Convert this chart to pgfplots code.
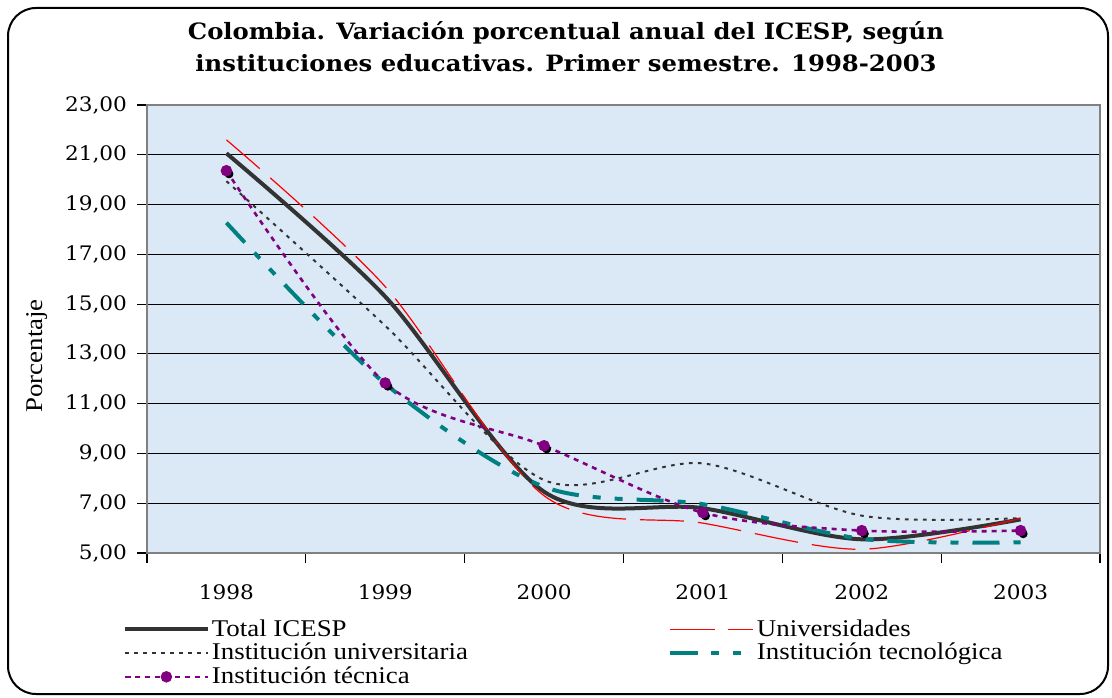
\documentclass[border=0pt]{standalone}
\usepackage{fontspec}
\setmainfont{Liberation Serif}[FakeStretch=1.12]
\newfontfamily\dvs{DejaVu Serif}[FakeStretch=1.08]
\usepackage{pgfplots}
\pgfplotsset{compat=1.18}
\definecolor{bgblue}{RGB}{219,233,246}
\definecolor{totgray}{RGB}{51,51,51}
\definecolor{tecteal}{RGB}{0,128,128}
\definecolor{tecpurple}{RGB}{128,0,128}
\begin{document}
\begin{tikzpicture}
\useasboundingbox (0pt,0pt) rectangle (556pt,348.5pt);
\draw[line width=1pt, rounded corners=14pt] (4pt,1.5pt) rectangle (554pt,344.5pt);
\node[align=center, font=\dvs\bfseries\fontsize{11.25}{16}\selectfont] at (283pt,325pt)
  {Colombia. Variación porcentual anual del ICESP, según\\instituciones educativas. Primer semestre. 1998-2003};
\begin{axis}[
    at={(73.5pt,72pt)}, anchor=south west,
    scale only axis, width=476.5pt, height=224pt,
    xmin=-0.5, xmax=5.5, ymin=5, ymax=23,
    xtick={0,...,5}, xticklabels={1998,1999,2000,2001,2002,2003},
    minor xtick={-0.5,0.5,...,5.5},
    ytick={5,7,...,23},
    tick pos=left,
    tick align=outside,
    major tick length=5pt, minor tick length=5pt,
    major x tick style={draw=none},
    minor x tick style={black, line width=0.6pt},
    ytick style={black, line width=0.6pt},
    ymajorgrids, major grid style={black, line width=0.5pt},
    axis background/.style={fill=bgblue},
    axis line style={gray, line width=0.8pt},
    ticklabel style={font=\dvs\fontsize{10}{12}\selectfont},
    xticklabel style={yshift=-7.5pt},
    yticklabel style={xshift=-1.5pt},
    /pgf/number format/use comma, /pgf/number format/fixed,
    /pgf/number format/fixed zerofill, /pgf/number format/precision=2,
    /pgf/number format/assume math mode=true,
    ylabel={Porcentaje},
    every axis y label/.style={at={(axis description cs:-0.115,0.44)}, rotate=90, anchor=center, font=\fontsize{12}{14}\selectfont},
    legend columns=2,
    legend cell align=left,
    legend style={at={(axis description cs:-0.032,-0.13)}, anchor=north west,
        draw=none, fill=none, font=\fontsize{12}{14}\selectfont, row sep=-2pt,
        nodes={inner xsep=1pt},
        /tikz/every even column/.append style={column sep=99pt}},
    legend image code/.code={\draw[#1,mark repeat=2,mark phase=2] plot coordinates {(0pt,0pt) (20.75pt,0pt) (41.5pt,0pt)};},
]
\addplot[smooth, color=totgray, line width=2pt] coordinates {
  (0,21.06)(1,15.3)(2,7.46)(3,6.8)(4,5.55)(5,6.35)};
\addlegendentry{Total ICESP}
\addplot[smooth, color=red, line width=0.6pt, dash pattern=on 22pt off 7pt] coordinates {
  (0,21.6)(1,15.7)(2,7.3)(3,6.2)(4,5.15)(5,6.4)};
\addlegendentry{Universidades}
\addplot[smooth, color=totgray, line width=1pt, dash pattern=on 1.8pt off 2.7pt] coordinates {
  (0,19.94)(1,14.13)(2,7.93)(3,8.6)(4,6.5)(5,6.4)};
\addlegendentry{Institución universitaria}
\addplot[smooth, color=tecteal, line width=2pt, dash pattern=on 13.5pt off 7pt on 4pt off 7pt on 4pt off 7pt] coordinates {
  (0,18.27)(1,11.8)(2,7.66)(3,6.96)(4,5.57)(5,5.43)};
\addlegendentry{Institución tecnológica}
\addplot[forget plot, only marks, mark=*, black, mark size=2pt, xshift=1.3pt, yshift=-1.6pt] coordinates {
  (0,20.36)(1,11.83)(2,9.31)(3,6.62)(4,5.9)(5,5.9)};
\addplot[smooth, color=tecpurple, line width=1.3pt, dash pattern=on 2.5pt off 2.5pt, mark=*, mark size=2.2pt, mark options={solid}] coordinates {
  (0,20.36)(1,11.83)(2,9.31)(3,6.62)(4,5.9)(5,5.9)};
\addlegendentry{Institución técnica}
\end{axis}
\end{tikzpicture}
\end{document}
